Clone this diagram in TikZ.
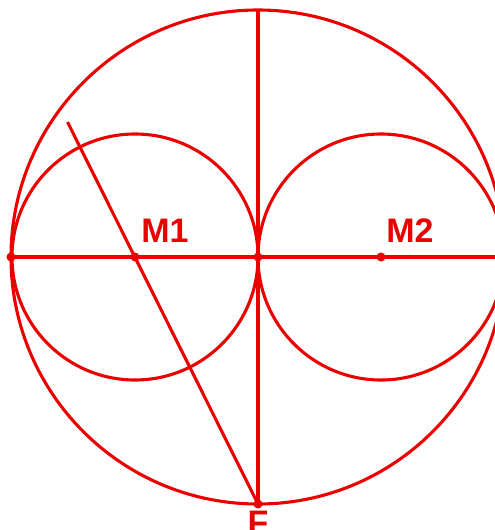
\documentclass[tikz,border=0pt]{standalone}
\usepackage{fontspec}
\setmainfont{Liberation Sans}
\definecolor{geored}{RGB}{235,0,0}
\begin{document}
\begin{tikzpicture}[x=1pt,y=-1pt,
  geo/.style={draw=geored,line width=3.1pt},
  pt/.style={circle,fill=geored,inner sep=0pt,minimum size=9pt},
  lbl/.style={text=geored,font=\bfseries\fontsize{34}{34}\selectfont,inner sep=0pt}]
\useasboundingbox (0,0) rectangle (495,530);
\clip (0,0) rectangle (495,530);
\coordinate (O) at (258,257);
\coordinate (T) at (258,9);
\coordinate (R) at (500,257);
\coordinate (S) at (67.5,122);
\node[pt] (A) at (11,257) {};
\node[pt] (M1) at (135,257) {};
\node[pt] (C) at (258,257) {};
\node[pt] (M2) at (381,257) {};
\node[pt] (F) at (258,504) {};
\draw[geo] (O) circle[radius=247];
\draw[geo] (M1) circle[radius=123];
\draw[geo] (M2) circle[radius=123];
\draw[geo] (A.center) -- (R);
\draw[geo] (T) -- (F.center);
\draw[geo] (S) -- (F.center);
\node[lbl] (L1) at (165,231) {M1};
\node[lbl] (L2) at (410,231) {M2};
\node[lbl,anchor=north] (LF) at (258,511) {F};
\end{tikzpicture}
\end{document}
